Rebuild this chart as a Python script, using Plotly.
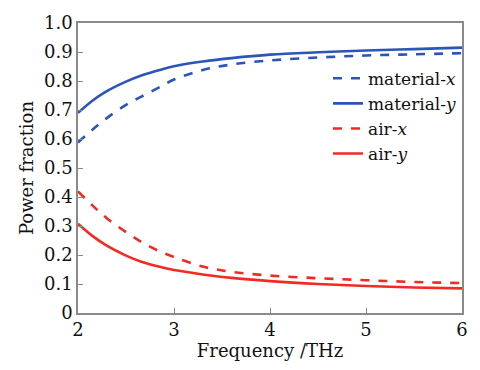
import plotly.graph_objects as go

# Frequency sampling points (THz)
freq = [2.0, 2.15, 2.3, 2.5, 2.66, 2.84, 3.0, 3.3, 3.6, 4.0, 4.5, 5.0, 5.5, 6.0]

# Power fraction in the material and in air, for x- and y-polarisation
material_x = [0.588, 0.632, 0.672, 0.718, 0.746, 0.777, 0.805, 0.838, 0.857, 0.871, 0.881, 0.888, 0.892, 0.896]
material_y = [0.690, 0.732, 0.765, 0.798, 0.819, 0.837, 0.851, 0.867, 0.879, 0.891, 0.899, 0.905, 0.910, 0.915]
air_x = [0.419, 0.371, 0.327, 0.279, 0.245, 0.214, 0.193, 0.160, 0.142, 0.129, 0.120, 0.113, 0.107, 0.103]
air_y = [0.308, 0.266, 0.232, 0.198, 0.177, 0.160, 0.148, 0.133, 0.121, 0.110, 0.100, 0.093, 0.088, 0.085]

x_ticks = [2, 3, 4, 5, 6]
y_ticks = [0, 0.1, 0.2, 0.3, 0.4, 0.5, 0.6, 0.7, 0.8, 0.9, 1.0]
y_tick_text = ["0", "0.1", "0.2", "0.3", "0.4", "0.5", "0.6", "0.7", "0.8", "0.9", "1.0"]

BLUE = "#2b55b8"
RED = "#f22a22"
FONT = "DejaVu Serif"
TEXT = "#111111"

series = [
    ("material-<i>x</i>", material_x, BLUE, "dash"),
    ("material-<i>y</i>", material_y, BLUE, "solid"),
    ("air-<i>x</i>", air_x, RED, "dash"),
    ("air-<i>y</i>", air_y, RED, "solid"),
]

fig = go.Figure()
for name, vals, color, dash in series:
    fig.add_trace(go.Scatter(
        x=freq, y=vals, name=name, mode="lines",
        line=dict(color=color, width=2.6, dash=dash, shape="spline", smoothing=1.0),
    ))

axis_common = dict(
    showline=True, linecolor="#8a8a8a", linewidth=1.5, mirror=True,
    ticks="inside", ticklen=5, tickwidth=1.2, tickcolor="#8a8a8a",
    showgrid=False, zeroline=False,
    tickfont=dict(family=FONT, size=18, color=TEXT),
)

fig.update_layout(
    width=480, height=370,
    margin=dict(l=78, r=14, t=13, b=57),
    paper_bgcolor="white", plot_bgcolor="white",
    font=dict(family=FONT, color=TEXT),
    xaxis=dict(range=[2, 6], tickvals=x_ticks,
               title=dict(text="Frequency /THz", font=dict(family=FONT, size=18), standoff=5),
               **axis_common),
    yaxis=dict(range=[0, 1.0], tickvals=y_ticks, ticktext=y_tick_text,
               title=dict(text="Power fraction", font=dict(family=FONT, size=18), standoff=6),
               **axis_common),
    legend=dict(
        x=1.0, y=0.87, xanchor="right", yanchor="top",
        bgcolor="rgba(0,0,0,0)", borderwidth=0,
        font=dict(family=FONT, size=17, color=TEXT),
        tracegroupgap=0, itemwidth=30,
    ),
)

fig.write_html("out.html")
